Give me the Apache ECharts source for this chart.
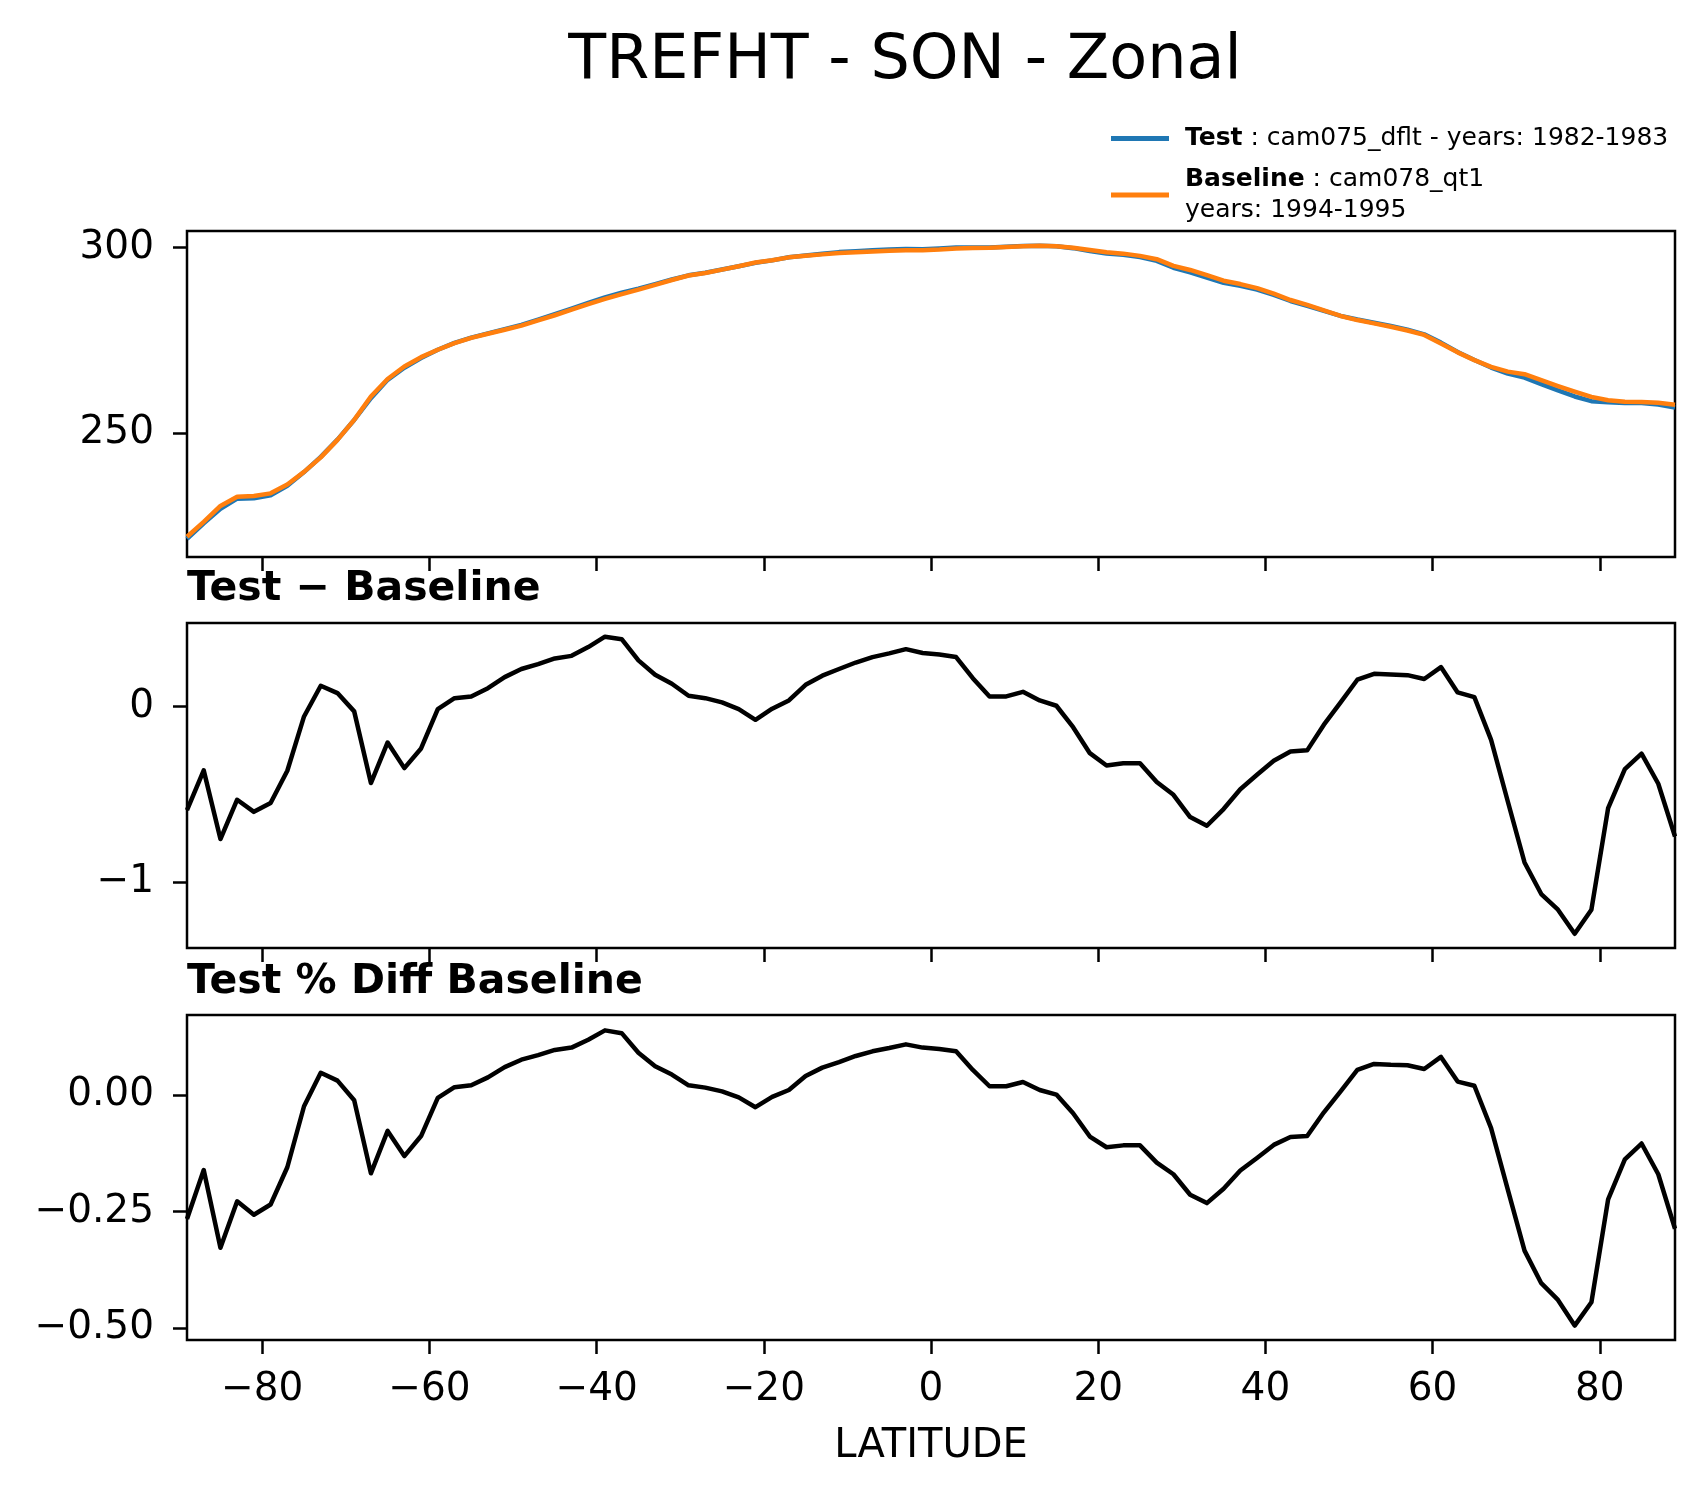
<!DOCTYPE html>
<html>
<head>
<meta charset="utf-8">
<title>TREFHT - SON - Zonal</title>
<script src="https://cdn.jsdelivr.net/npm/echarts@6/dist/echarts.min.js"></script>
<style>
  html, body { margin: 0; padding: 0; background: #fff; }
  #main { width: 1704px; height: 1496px; }
</style>
</head>
<body>
<div id="main"></div>
<script>
// latitude of each zonal band
var LATS = [-89, -87, -85, -83, -81, -79, -77, -75, -73, -71,
  -69, -67, -65, -63, -61, -59, -57, -55, -53, -51,
  -49, -47, -45, -43, -41, -39, -37, -35, -33, -31,
  -29, -27, -25, -23, -21, -19, -17, -15, -13, -11,
  -9, -7, -5, -3, -1, 1, 3, 5, 7, 9,
  11, 13, 15, 17, 19, 21, 23, 25, 27, 29,
  31, 33, 35, 37, 39, 41, 43, 45, 47, 49,
  51, 53, 55, 57, 59, 61, 63, 65, 67, 69,
  71, 73, 75, 77, 79, 81, 83, 85, 87, 89];

// cam078_qt1, K
var BASELINE = [222.1, 226.1, 230.4, 232.9, 233.1, 233.8, 236.2, 239.6, 243.5, 248.2,
  253.6, 259.9, 264.6, 268.0, 270.5, 272.5, 274.3, 275.7, 276.8, 277.9,
  279.0, 280.4, 281.8, 283.3, 284.8, 286.2, 287.5, 288.7, 290.0, 291.3,
  292.5, 293.2, 294.1, 295.0, 296.0, 296.6, 297.4, 297.8, 298.2, 298.6,
  298.8, 299.0, 299.2, 299.3, 299.3, 299.5, 299.8, 299.9, 300.0, 300.2,
  300.4, 300.5, 300.4, 300.0, 299.4, 298.8, 298.4, 297.8, 296.9, 295.1,
  294.0, 292.6, 291.1, 290.2, 289.1, 287.6, 285.9, 284.6, 283.1, 281.6,
  280.5, 279.6, 278.7, 277.7, 276.5, 274.2, 271.8, 269.7, 267.9, 266.6,
  265.9, 264.3, 262.7, 261.2, 259.8, 258.9, 258.5, 258.4, 258.2, 257.7];

// cam075_dflt, K
var TEST = [221.51, 225.74, 229.65, 232.37, 232.50, 233.25, 235.83, 239.54, 243.62, 248.28,
  253.57, 259.46, 264.40, 267.65, 270.26, 272.49, 274.35, 275.76, 276.90, 278.07,
  279.21, 280.64, 282.07, 283.59, 285.14, 286.60, 287.88, 288.96, 290.18, 291.43,
  292.56, 293.25, 294.12, 294.99, 295.92, 296.59, 297.43, 297.92, 298.38, 298.81,
  299.05, 299.28, 299.50, 299.63, 299.60, 299.80, 300.08, 300.06, 300.06, 300.26,
  300.48, 300.53, 300.40, 299.88, 299.13, 298.46, 298.08, 297.48, 296.47, 294.60,
  293.37, 291.92, 290.52, 289.73, 288.71, 287.29, 285.64, 284.35, 283.00, 281.62,
  280.65, 279.79, 278.88, 277.88, 276.66, 274.42, 271.88, 269.75, 267.71, 266.06,
  265.01, 263.23, 261.54, 259.91, 258.64, 258.32, 258.14, 258.13, 257.76, 256.96];

// test - baseline
var DIFF = [-0.59, -0.364, -0.755, -0.531, -0.60, -0.55, -0.366, -0.057, 0.118, 0.076,
  -0.028, -0.436, -0.205, -0.351, -0.239, -0.015, 0.047, 0.057, 0.104, 0.167,
  0.213, 0.241, 0.273, 0.288, 0.338, 0.397, 0.383, 0.262, 0.180, 0.129,
  0.061, 0.047, 0.023, -0.015, -0.076, -0.013, 0.034, 0.123, 0.175, 0.213,
  0.250, 0.281, 0.302, 0.326, 0.304, 0.296, 0.281, 0.161, 0.057, 0.057,
  0.083, 0.034, 0.004, -0.118, -0.266, -0.336, -0.323, -0.323, -0.430, -0.503,
  -0.630, -0.679, -0.584, -0.471, -0.389, -0.309, -0.256, -0.250, -0.104, 0.023,
  0.152, 0.186, 0.182, 0.178, 0.156, 0.224, 0.080, 0.053, -0.190, -0.541,
  -0.888, -1.068, -1.157, -1.294, -1.157, -0.579, -0.357, -0.269, -0.440, -0.74];

// test % diff baseline
var PCTDIFF = [-0.266, -0.161, -0.328, -0.228, -0.257, -0.235, -0.155, -0.024, 0.048, 0.031,
  -0.011, -0.168, -0.077, -0.131, -0.088, -0.006, 0.017, 0.021, 0.038, 0.060,
  0.076, 0.086, 0.097, 0.102, 0.119, 0.139, 0.133, 0.091, 0.062, 0.044,
  0.021, 0.016, 0.008, -0.005, -0.026, -0.004, 0.011, 0.041, 0.059, 0.071,
  0.084, 0.094, 0.101, 0.109, 0.102, 0.099, 0.094, 0.054, 0.019, 0.019,
  0.028, 0.011, 0.001, -0.039, -0.089, -0.112, -0.108, -0.108, -0.145, -0.170,
  -0.214, -0.232, -0.201, -0.162, -0.135, -0.107, -0.090, -0.088, -0.037, 0.008,
  0.054, 0.067, 0.065, 0.064, 0.056, 0.082, 0.029, 0.020, -0.071, -0.203,
  -0.334, -0.404, -0.440, -0.495, -0.445, -0.224, -0.138, -0.104, -0.170, -0.287];

var LAT_TICKS = [-80, -60, -40, -20, 0, 20, 40, 60, 80];
var TEMP_TICKS = [250, 300];
var DIFF_TICKS = [-1, 0];
var PCT_TICKS = [-0.5, -0.25, 0];

var FONT = 'DejaVu Sans';

function pairs(ys) {
  var out = [];
  for (var i = 0; i < LATS.length; i++) {
    out.push([LATS[i], ys[i]]);
  }
  return out;
}

function uminus(s) {
  return String(s).replace('-', '\u2212');
}

function xAxisFor(idx, withLabels) {
  return {
    type: 'value',
    gridIndex: idx,
    min: -89,
    max: 89,
    name: withLabels ? 'LATITUDE' : '',
    nameLocation: 'middle',
    nameGap: 87,
    nameTextStyle: { fontFamily: FONT, fontSize: 40, color: '#000' },
    axisLine: { show: false, onZero: false },
    axisTick: { show: true, length: 14, customValues: LAT_TICKS,
      lineStyle: { color: '#000', width: 2.5 } },
    axisLabel: { show: withLabels, customValues: LAT_TICKS, margin: 30,
      fontFamily: FONT, fontSize: 39, color: '#000',
      formatter: function(v) { return uminus(v); } },
    splitLine: { show: false }
  };
}

function yAxisFor(idx, min, max, ticks, fmt) {
  return {
    type: 'value',
    gridIndex: idx,
    min: min,
    max: max,
    axisLine: { show: false, onZero: false },
    axisTick: { show: true, length: 14, customValues: ticks,
      lineStyle: { color: '#000', width: 2.5 } },
    axisLabel: { customValues: ticks, margin: 33,
      fontFamily: FONT, fontSize: 39, color: '#000',
      formatter: fmt },
    splitLine: { show: false }
  };
}

function lineSeries(name, idx, ys, color, z) {
  return {
    name: name,
    type: 'line',
    xAxisIndex: idx,
    yAxisIndex: idx,
    data: pairs(ys),
    symbol: 'none',
    z: z,
    lineStyle: { color: color, width: 4.5, join: 'round' },
    itemStyle: { color: color }
  };
}

var panel = { left: 187, width: 1488, show: true, borderColor: '#000', borderWidth: 2.5 };

var option = {
  animation: false,
  backgroundColor: '#fff',
  title: [{
    text: 'TREFHT - SON - Zonal',
    left: 905, top: 62, padding: 0,
    textAlign: 'center', textVerticalAlign: 'middle',
    textStyle: { fontFamily: FONT, fontSize: 62, fontWeight: 'normal', color: '#000' }
  }, {
    text: 'Test \u2212 Baseline',
    left: 187, top: 589, padding: 0,
    textAlign: 'left', textVerticalAlign: 'middle',
    textStyle: { fontFamily: FONT, fontSize: 41, fontWeight: 'bold', color: '#000' }
  }, {
    text: 'Test % Diff Baseline',
    left: 187, top: 982, padding: 0,
    textAlign: 'left', textVerticalAlign: 'middle',
    textStyle: { fontFamily: FONT, fontSize: 41, fontWeight: 'bold', color: '#000' }
  }],
  legend: {
    data: ['Test', 'Baseline'],
    orient: 'vertical',
    left: 1111,
    top: 126,
    padding: 0,
    itemGap: 16,
    itemWidth: 58,
    itemHeight: 5,
    icon: 'rect',
    align: 'left',
    textStyle: {
      fontFamily: FONT, fontSize: 25, color: '#000',
      rich: {
        b: { fontFamily: FONT, fontSize: 25, fontWeight: 'bold', lineHeight: 31, padding: [0, 0, 0, 11] },
        n: { fontFamily: FONT, fontSize: 25, lineHeight: 31 },
        p: { fontFamily: FONT, fontSize: 25, lineHeight: 31, padding: [0, 0, 0, 11] }
      }
    },
    formatter: function(name) {
      if (name === 'Test') {
        return '{b|Test}{n| : cam075_dflt - years: 1982-1983}';
      }
      return '{b|Baseline}{n| : cam078_qt1}\n{p|years: 1994-1995}';
    }
  },
  grid: [
    Object.assign({ top: 231, height: 326 }, panel),
    Object.assign({ top: 623, height: 325 }, panel),
    Object.assign({ top: 1015, height: 325 }, panel)
  ],
  xAxis: [xAxisFor(0, false), xAxisFor(1, false), xAxisFor(2, true)],
  yAxis: [
    yAxisFor(0, 216.65, 304.5, TEMP_TICKS, function(v) { return String(v); }),
    yAxisFor(1, -1.375, 0.475, DIFF_TICKS, function(v) { return uminus(v); }),
    yAxisFor(2, -0.526, 0.172, PCT_TICKS, function(v) { return uminus(v.toFixed(2)); })
  ],
  series: [
    lineSeries('Test', 0, TEST, '#1f77b4', 2),
    lineSeries('Baseline', 0, BASELINE, '#ff7f0e', 3),
    lineSeries('Test - Baseline', 1, DIFF, '#000', 2),
    lineSeries('Test % Diff Baseline', 2, PCTDIFF, '#000', 2)
  ]
};

var myChart = echarts.init(document.getElementById('main'));
myChart.setOption(option);
</script>
</body>
</html>
